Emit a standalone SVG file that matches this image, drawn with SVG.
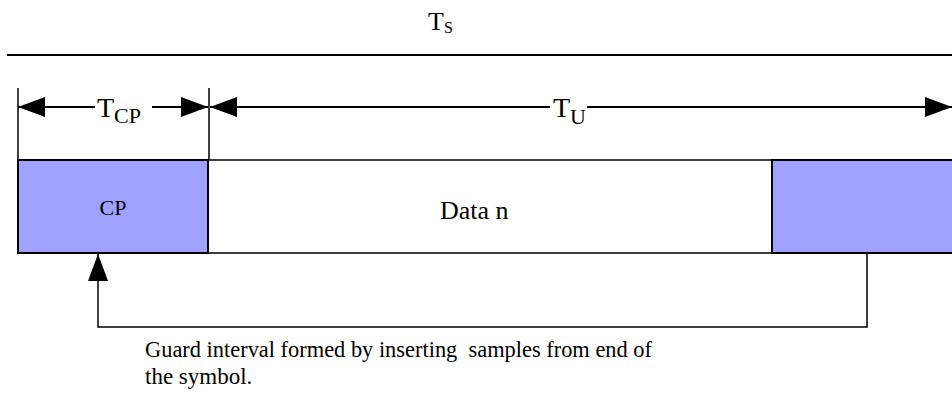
<svg xmlns="http://www.w3.org/2000/svg" width="952" height="410" viewBox="0 0 952 410">
  <style>
    .ln { stroke: #000; stroke-width: 2; fill: none; }
    .thin { stroke: #000; stroke-width: 1.5; fill: none; }
    .sym { font-family: "Liberation Serif", "Times New Roman", serif; fill: #000; }
    .gar { font-family: "Liberation Serif", "Times New Roman", serif; fill: #000; white-space: pre; }
    .cp { fill: #a0a0ff; stroke: #000; stroke-width: 2; }
  </style>
  <defs>
    <marker id="ah" markerUnits="userSpaceOnUse" markerWidth="28" markerHeight="22" refX="27" refY="10" orient="auto-start-reverse">
      <path d="M0,0 L27,10 L0,20 Z" fill="#000"/>
    </marker>
  </defs>
  <rect width="952" height="410" fill="#fff"/>

  <g id="ts-label">
    <line class="ln" x1="7" y1="55" x2="952" y2="55"/>
    <text class="sym" x="428" y="30" font-size="26">T<tspan font-size="16" dy="3">S</tspan></text>
  </g>

  <g id="ticks">
    <line class="thin" x1="18" y1="88" x2="18" y2="160"/>
    <line class="thin" x1="209" y1="88" x2="209" y2="160"/>
  </g>

  <g id="connectors">
    <line class="ln" x1="18" y1="107" x2="95" y2="107" marker-start="url(#ah)"/>
    <line class="ln" x1="152" y1="107" x2="208" y2="107" marker-end="url(#ah)"/>
    <line class="ln" x1="210" y1="107" x2="550" y2="107" marker-start="url(#ah)"/>
    <line class="ln" x1="587" y1="107" x2="952" y2="107" marker-end="url(#ah)"/>
    <polyline class="thin" points="867,253 867,327 98,327 98,254" marker-end="url(#ah)"/>
  </g>

  <g id="tcp-label">
    <text class="sym" x="97" y="117" font-size="28">T<tspan font-size="22" dy="6">CP</tspan></text>
  </g>
  <g id="tu-label">
    <text class="sym" x="553" y="117" font-size="28">T<tspan font-size="22" dy="7">U</tspan></text>
  </g>

  <g id="data-box">
    <rect x="208" y="160" width="564" height="93" fill="#fff" stroke="#000" stroke-width="1.5"/>
    <text class="gar" x="440" y="219" font-size="26">Data n</text>
  </g>
  <g id="cp-box">
    <rect class="cp" x="18" y="160" width="190" height="93"/>
    <text class="sym" x="113" y="215" font-size="22" text-anchor="middle">CP</text>
  </g>
  <g id="tail-box">
    <rect class="cp" x="772" y="160" width="190" height="93"/>
  </g>

  <g id="caption">
    <text class="gar" x="145" y="357" font-size="23" xml:space="preserve" textLength="507" lengthAdjust="spacingAndGlyphs">Guard interval formed by inserting  samples from end of</text>
    <text class="gar" x="145" y="384" font-size="23">the symbol.</text>
  </g>
</svg>
